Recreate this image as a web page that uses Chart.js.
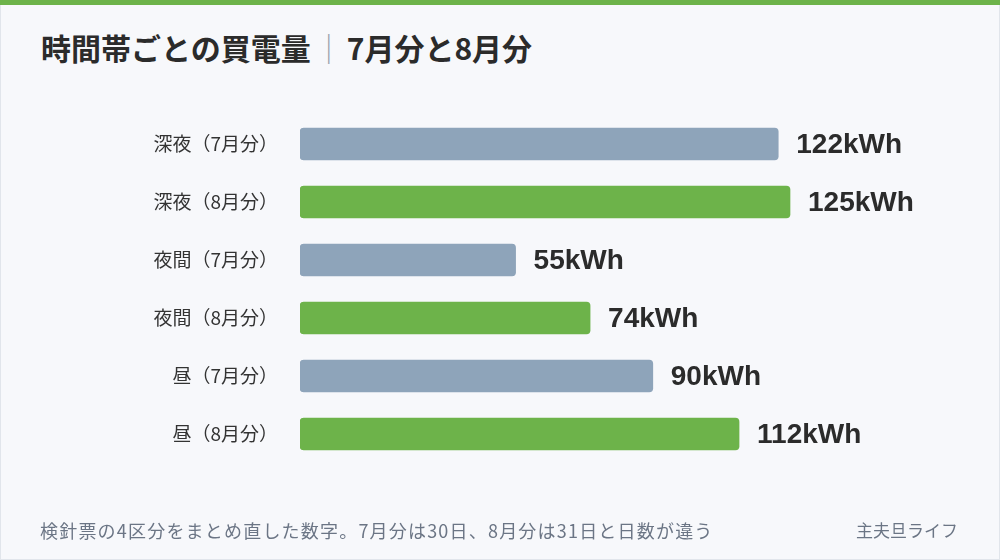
<!DOCTYPE html>
<html lang="ja">
<head>
<meta charset="utf-8">
<title>時間帯ごとの買電量</title>
<script src="https://cdn.jsdelivr.net/npm/chart.js@4"></script>
<style>
    html, body {
        margin: 0;
        padding: 0;
    }
    body {
        width: 1000px;
        height: 560px;
        position: relative;
        overflow: hidden;
        background: #f7f8fb;
        font-family: "Noto Sans CJK JP", "Noto Sans", sans-serif;
    }
    .frame {
        position: absolute;
        left: 0; top: 0;
        width: 998px; height: 558px;
        border: 1px solid #e1e5eb;
    }
    .top-bar {
        position: absolute;
        left: 0; top: 0;
        width: 1000px; height: 5px;
        background: #6db34a;
    }
    h1 {
        position: absolute;
        left: 41px; top: 25px;
        margin: 0;
        font-size: 30px;
        font-weight: 700;
        color: #2b2b2b;
        line-height: 44px;
        white-space: nowrap;
    }
    h1 .sep {
        color: #9aa3ad;
        font-weight: 400;
        margin: 0 3px;
    }
    .note, .brand {
        position: absolute;
        top: 517px;
        font-size: 18px;
        color: #6b7585;
        line-height: 26px;
        white-space: nowrap;
    }
    .note { left: 40px; letter-spacing: 1.2px; }
    .brand { right: 42px; font-size: 17px; }
    #chart-wrap {
        position: absolute;
        left: 0; top: 0;
        width: 1000px; height: 560px;
    }
</style>
</head>
<body>
<div class="frame"></div>
<div class="top-bar"></div>
<h1>時間帯ごとの買電量<span class="sep">｜</span>7月分と8月分</h1>
<div id="chart-wrap"><canvas id="usageChart" width="1000" height="560"></canvas></div>
<div class="note">検針票の4区分をまとめ直した数字。7月分は30日、8月分は31日と日数が違う</div>
<div class="brand">主夫旦ライフ</div>

<script>
// Data
const categories = ['深夜（7月分）', '深夜（8月分）', '夜間（7月分）', '夜間（8月分）', '昼（7月分）', '昼（8月分）'];
const months = ['7月', '8月', '7月', '8月', '7月', '8月'];
const usageKwh = [122, 125, 55, 74, 90, 112];
const unit = 'kWh';

const monthColors = { '7月': '#8ea4ba', '8月': '#6db34a' };

// Value labels at the end of each bar
const valueLabels = {
    id: 'valueLabels',
    afterDatasetsDraw(chart) {
        const ctx = chart.ctx;
        const meta = chart.getDatasetMeta(0);
        ctx.save();
        ctx.font = 'bold 28px "Liberation Sans", "Noto Sans CJK JP", sans-serif';
        ctx.fillStyle = '#2b2b2b';
        ctx.textAlign = 'left';
        ctx.textBaseline = 'middle';
        meta.data.forEach((bar, i) => {
            ctx.fillText(usageKwh[i] + unit, bar.x + 18, bar.y + 1);
        });
        ctx.restore();
    }
};

const ctx = document.getElementById('usageChart').getContext('2d');
new Chart(ctx, {
    type: 'bar',
    data: {
        labels: categories,
        datasets: [{
            data: usageKwh,
            backgroundColor: months.map(m => monthColors[m]),
            borderRadius: 4,
            borderSkipped: false,
            barThickness: 32
        }]
    },
    options: {
        indexAxis: 'y',
        responsive: false,
        animation: false,
        layout: {
            padding: { top: 115, bottom: 97, right: 112, left: 0 }
        },
        scales: {
            x: {
                display: false,
                min: 0,
                max: 150
            },
            y: {
                grid: { display: false },
                border: { display: false },
                afterFit(scale) { scale.width = 300; },
                ticks: {
                    padding: 14,
                    color: '#333333',
                    font: { size: 19, family: '"Noto Sans CJK JP", sans-serif' }
                }
            }
        },
        plugins: {
            legend: { display: false },
            tooltip: { enabled: false }
        }
    },
    plugins: [valueLabels]
});
</script>
</body>
</html>
